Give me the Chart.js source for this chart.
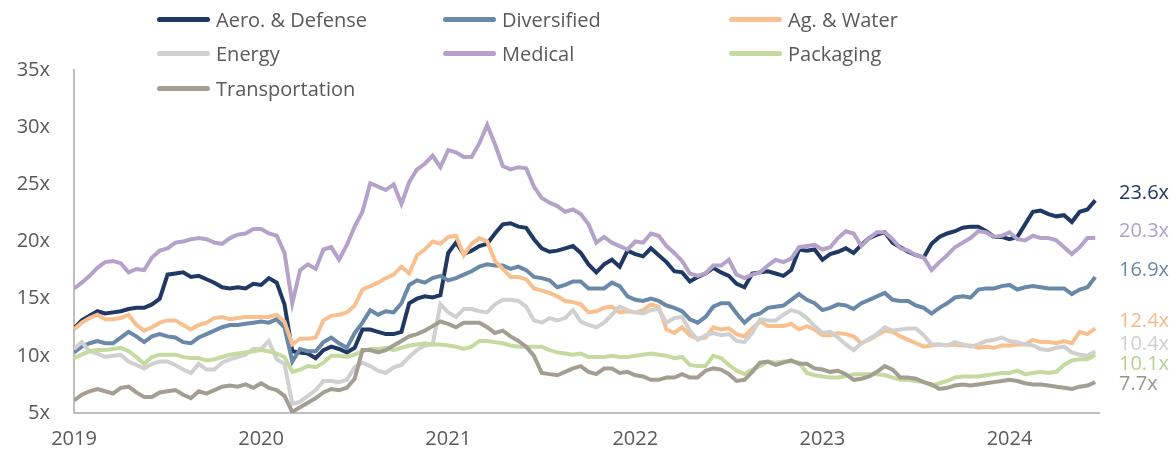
<!DOCTYPE html>
<html>
<head>
<meta charset="utf-8">
<script src="https://cdn.jsdelivr.net/npm/chart.js@4.4.1/dist/chart.umd.min.js"></script>
<style>
  html, body { margin: 0; padding: 0; background: #fff; }
  #wrap { position: relative; width: 1176px; height: 462px; font-family: 'Open Sans', sans-serif; }
  #legend {
    position: absolute; left: 157px; top: 2px;
    display: grid; grid-template-columns: 286px 286px 240px; grid-auto-rows: 34.5px;
  }
  .item { display: flex; align-items: center; font-size: 20px; color: #595959; white-space: nowrap; }
  .swatch { width: 53px; height: 5px; border-radius: 3px; margin-right: 6px; }
</style>
</head>
<body>
<div id="wrap">
  <canvas id="peChart" width="1176" height="462"></canvas>
  <div id="legend"></div>
</div>
<script>
// Half-monthly points, starting Jan 2019
const startYear = 2019;
const pointsPerYear = 24;

const seriesNames = ['Aero. & Defense', 'Diversified', 'Ag. & Water', 'Energy', 'Medical', 'Packaging', 'Transportation'];
const lineColors = ['#1F3864', '#6A89A8', '#F8C08F', '#D0D0D0', '#B4A2CB', '#C5DA9F', '#A39E92'];
const labelColors = ['#1F3864', '#6A89A8', '#F8B988', '#CFCFCF', '#B09FCC', '#B5D28C', '#9B968A'];
const yTicks = [5, 10, 15, 20, 25, 30, 35];
const yearTicks = [2019, 2020, 2021, 2022, 2023, 2024];

const aero = [
  12.4,13.1,13.5,13.9,13.7,13.8,13.9,14.1,14.2,14.2,14.5,15.0,17.1,17.2,17.3,16.9,17.0,16.7,16.4,16.0,15.9,16.0,15.9,16.3,
  16.2,16.8,16.4,14.5,10.4,10.3,10.2,9.8,10.5,10.8,10.6,10.3,10.7,12.3,12.3,12.1,11.9,11.9,12.1,14.6,15.0,15.2,15.1,15.3,
  19.0,19.9,18.9,19.2,19.6,19.8,20.7,21.5,21.6,21.3,21.2,20.2,19.4,19.1,19.2,19.4,19.6,19.0,18.0,17.3,18.0,18.4,17.8,19.2,
  18.9,18.7,19.4,18.8,18.2,17.4,17.3,16.5,16.9,17.2,17.7,17.3,17.0,16.3,16.0,17.2,17.3,17.4,17.2,17.0,17.5,19.3,19.2,19.3,
  18.4,18.9,19.1,19.4,19.0,19.7,20.3,20.6,20.8,19.9,19.5,19.1,18.8,18.6,19.8,20.4,20.7,20.9,21.2,21.3,21.3,20.9,20.4,20.4,
  20.2,20.4,21.5,22.6,22.7,22.4,22.2,22.3,21.7,22.6,22.8,23.6
];
const diversified = [
  10.3,10.8,11.1,11.3,11.1,11.1,11.6,12.1,11.7,11.2,11.7,11.9,11.7,11.6,11.2,11.1,11.6,11.9,12.2,12.5,12.7,12.7,12.8,12.9,
  13.0,12.9,13.2,12.5,9.5,10.6,10.4,10.4,11.2,11.6,11.1,10.7,12.0,12.9,14.0,13.6,13.9,13.8,14.6,16.2,16.6,16.4,16.8,17.0,
  16.6,16.8,17.1,17.4,17.8,18.0,17.9,17.9,17.6,17.8,17.5,16.9,16.8,16.6,16.0,16.2,16.5,16.5,15.9,15.9,15.9,16.4,16.1,15.2,
  14.9,14.8,15.0,14.8,14.4,14.2,13.9,13.2,12.9,13.4,14.3,14.6,14.6,13.7,12.9,13.5,13.7,14.2,14.3,14.4,14.9,15.4,14.9,14.6,
  14.0,14.2,14.5,14.4,14.1,14.6,14.9,15.2,15.5,14.9,14.8,14.8,14.4,14.2,13.7,14.2,14.6,15.1,15.2,15.1,15.8,15.9,15.9,16.1,
  16.2,15.8,16.0,16.1,16.0,15.9,15.9,15.9,15.4,15.8,16.0,16.9
];
const agWater = [
  12.3,12.9,13.3,13.6,13.2,13.2,13.3,13.6,12.7,12.2,12.5,12.9,13.1,13.1,12.7,12.3,12.7,12.9,13.3,13.4,13.2,13.3,13.4,13.4,
  13.4,13.4,13.6,13.0,11.0,11.5,11.5,11.6,13.1,13.5,13.6,13.8,14.4,15.8,16.1,16.4,16.8,17.1,17.8,17.2,18.8,19.3,20.0,19.8,
  20.4,20.5,18.8,19.8,20.3,20.0,18.3,17.6,16.9,16.9,16.7,15.9,15.7,15.5,15.2,14.8,14.7,14.5,13.8,13.9,14.2,14.3,13.8,13.9,
  13.8,14.0,14.5,14.3,12.3,12.0,12.5,11.8,11.5,11.6,12.5,12.3,12.4,11.9,11.7,12.4,13.0,12.6,12.6,12.6,12.8,12.3,12.6,12.3,
  11.8,11.8,12.0,11.9,11.7,11.1,11.4,11.8,12.2,12.1,11.7,11.4,11.1,10.8,10.9,11.0,10.9,11.0,10.9,10.9,10.7,10.8,10.7,10.9,
  10.9,11.0,11.0,11.4,11.2,11.2,11.1,11.3,11.1,12.1,11.9,12.4
];
const energy = [
  10.6,11.2,10.4,10.2,9.9,10.0,10.1,9.5,9.2,8.9,9.3,9.5,9.5,9.2,8.8,8.5,9.3,8.8,8.8,9.4,9.7,9.9,10.1,10.6,
  10.6,11.3,9.7,9.3,5.8,6.0,6.5,7.0,7.8,7.8,7.7,7.9,9.0,9.4,9.1,8.7,8.5,9.0,9.2,9.9,10.5,10.9,11.0,14.5,
  13.8,13.4,14.1,14.1,13.9,13.8,14.5,14.9,14.9,14.8,14.3,13.1,12.9,13.3,13.1,13.3,14.0,13.0,12.7,12.5,12.9,13.6,14.3,14.0,
  13.8,13.7,14.0,14.1,12.9,13.3,13.4,12.2,11.4,11.8,12.0,11.8,11.9,11.3,11.2,12.0,13.2,13.1,13.1,13.6,14.0,13.8,13.3,12.6,
  12.0,12.1,11.6,11.0,10.5,11.1,11.5,11.9,12.5,12.2,12.3,12.4,12.4,11.8,11.0,11.0,10.9,11.2,11.0,10.8,11.0,11.3,11.4,11.6,
  11.3,11.2,11.0,10.9,10.6,10.5,10.7,10.8,10.3,10.1,10.0,10.4
];
const medical = [
  15.9,16.4,17.0,17.7,18.2,18.3,18.1,17.3,17.6,17.5,18.6,19.2,19.4,19.9,20.0,20.2,20.3,20.2,19.9,19.8,20.3,20.6,20.7,21.1,
  21.1,20.7,20.5,19.0,14.6,17.5,18.0,17.6,19.3,19.5,18.4,19.7,21.3,22.6,25.1,24.8,24.5,25.0,23.3,25.2,26.3,26.8,27.5,26.5,
  28.0,27.8,27.4,27.4,28.6,30.2,28.5,26.6,26.3,26.5,26.4,24.8,23.8,23.4,23.1,22.6,22.8,22.4,21.5,19.9,20.4,19.9,19.6,19.3,
  20.0,19.9,20.7,20.5,19.6,19.0,18.3,17.2,17.0,17.2,17.9,17.9,18.4,17.1,16.8,17.1,17.3,17.9,18.4,18.2,18.5,19.5,19.6,19.7,
  19.3,19.5,20.3,20.9,20.7,19.6,20.3,20.8,20.8,20.2,19.4,19.2,18.8,18.6,17.5,18.2,18.8,19.5,19.9,20.3,20.9,20.8,20.4,20.5,
  20.8,20.2,20.1,20.5,20.3,20.3,20.1,19.5,18.9,19.5,20.3,20.3
];
const packaging = [
  9.8,10.1,10.4,10.5,10.5,10.6,10.7,10.4,9.9,9.3,9.9,10.1,10.1,10.1,9.9,9.8,9.8,9.6,9.7,9.9,10.1,10.2,10.3,10.4,
  10.5,10.4,10.2,9.9,8.6,8.8,9.1,9.0,9.4,10.0,10.0,9.9,10.1,10.4,10.6,10.6,10.7,10.5,10.7,10.9,11.0,11.1,11.0,11.0,
  10.9,10.8,10.6,10.8,11.3,11.3,11.2,11.1,10.9,10.8,10.8,10.8,10.8,10.5,10.3,10.2,10.1,10.2,9.9,9.9,9.9,10.0,9.9,9.9,
  10.0,10.1,10.2,10.1,10.0,9.8,9.9,9.2,9.1,9.1,10.0,9.8,9.2,8.7,8.4,8.8,9.1,9.5,9.4,9.5,9.5,9.4,8.5,8.3,
  8.2,8.1,8.1,8.2,8.4,8.4,8.4,8.4,8.3,8.1,7.9,7.9,7.8,7.7,7.4,7.6,7.8,8.1,8.2,8.2,8.2,8.3,8.4,8.5,
  8.5,8.7,8.4,8.5,8.6,8.5,8.6,9.2,9.6,9.7,9.7,10.1
];
const transportation = [
  6.1,6.6,6.9,7.1,6.9,6.7,7.2,7.3,6.8,6.4,6.4,6.8,6.9,7.0,6.6,6.3,6.9,6.7,7.0,7.3,7.4,7.3,7.5,7.2,
  7.6,7.2,7.0,6.5,5.1,5.5,5.9,6.3,6.8,7.1,7.0,7.2,8.0,10.5,10.5,10.3,10.5,10.9,11.3,11.7,11.9,12.2,12.6,13.0,
  12.8,12.5,12.9,12.9,12.9,12.5,12.0,12.2,11.7,11.3,10.8,10.0,8.5,8.4,8.3,8.6,8.9,9.1,8.6,8.4,8.9,8.9,8.5,8.6,
  8.3,8.2,7.9,7.9,8.1,8.1,8.4,8.1,8.1,8.7,8.9,8.8,8.4,7.8,7.9,8.6,9.4,9.5,9.2,9.4,9.6,9.3,9.3,8.9,
  8.8,8.6,8.7,8.4,7.9,8.0,8.2,8.6,9.1,8.8,8.1,8.1,8.0,7.7,7.5,7.1,7.2,7.4,7.5,7.4,7.5,7.6,7.7,7.8,
  7.9,7.8,7.6,7.5,7.5,7.4,7.3,7.2,7.1,7.3,7.4,7.7
];

const allSeries = [aero, diversified, agWater, energy, medical, packaging, transportation];
const lastX = startYear + (aero.length - 1) / pointsPerYear;

// HTML legend (3 columns like the original)
const legendEl = document.getElementById('legend');
seriesNames.forEach((name, i) => {
  const item = document.createElement('div');
  item.className = 'item';
  item.innerHTML = `<span class="swatch" style="background:${lineColors[i]}"></span>${name}`;
  legendEl.appendChild(item);
});

// Value labels at the right end of each line
const endLabels = {
  id: 'endLabels',
  afterDatasetsDraw(chart) {
    const ctx = chart.ctx;
    const items = chart.data.datasets.map((ds, i) => {
      const meta = chart.getDatasetMeta(i);
      const pt = meta.data[meta.data.length - 1];
      const vals = allSeries[i];
      return { text: vals[vals.length - 1].toFixed(1) + 'x', y: pt.y - 7, color: labelColors[i] };
    });
    items.sort((a, b) => a.y - b.y);
    for (let i = 1; i < items.length; i++) {
      if (items[i].y - items[i - 1].y < 20) items[i].y = items[i - 1].y + 20;
    }
    ctx.save();
    ctx.font = '20px "Open Sans", sans-serif';
    ctx.textAlign = 'left';
    ctx.textBaseline = 'middle';
    items.forEach(it => {
      ctx.fillStyle = it.color;
      ctx.fillText(it.text, chart.chartArea.right + 20, it.y);
    });
    ctx.restore();
  }
};

const ctx = document.getElementById('peChart').getContext('2d');
const peChart = new Chart(ctx, {
  type: 'line',
  data: {
    datasets: allSeries.map((vals, i) => ({
      label: seriesNames[i],
      data: vals.map((v, k) => ({ x: startYear + k / pointsPerYear, y: v })),
      borderColor: lineColors[i],
      borderWidth: 4,
      pointRadius: 0,
      tension: 0,
      order: allSeries.length - i
    }))
  },
  options: {
    responsive: false,
    animation: false,
    layout: { padding: { top: 70, right: 77, left: 0, bottom: 0 } },
    plugins: { legend: { display: false }, tooltip: { enabled: false } },
    scales: {
      x: {
        type: 'linear',
        min: startYear,
        max: lastX + 0.02,
        afterFit: (s) => { s.height = 49; },
        afterBuildTicks: (s) => { s.ticks = yearTicks.map(v => ({ value: v })); },
        grid: { display: false, drawTicks: false },
        border: { display: true, color: '#BFBFBF', width: 2 },
        ticks: {
          autoSkip: false, maxRotation: 0, padding: 14,
          color: '#595959', font: { family: 'Open Sans', size: 20 },
          callback: (v) => String(v)
        }
      },
      y: {
        min: yTicks[0],
        max: yTicks[yTicks.length - 1],
        afterFit: (s) => { s.width = 74; },
        afterBuildTicks: (s) => { s.ticks = yTicks.map(v => ({ value: v })); },
        grid: { display: false, drawTicks: false },
        border: { display: true, color: '#BFBFBF', width: 2 },
        ticks: {
          padding: 24,
          color: '#595959', font: { family: 'Open Sans', size: 20 },
          callback: (v) => v + 'x'
        }
      }
    }
  },
  plugins: [endLabels]
});
</script>
</body>
</html>
